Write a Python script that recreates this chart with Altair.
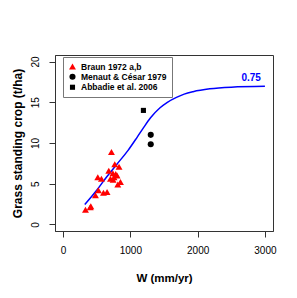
import altair as alt
import pandas as pd

# Data
braun_w = [333, 404, 412, 481, 525, 516, 570, 600, 654, 679, 719, 704, 744, 768, 783, 803, 832, 813, 853, 758, 740]
braun_v = [1.8, 2.1, 2.25, 3.6, 4.2, 5.8, 5.6, 3.9, 4.0, 6.6, 8.9, 5.6, 5.5, 7.4, 6.2, 6.0, 7.1, 4.9, 5.2, 5.8, 6.3]
menaut_w = [1303, 1303]
menaut_v = [11.0, 9.85]
abbadie_w = [1194]
abbadie_v = [14.0]

curve_w = [322, 500, 644, 800, 966, 1100, 1189, 1300, 1437, 1550, 1685, 1800, 1932, 2180, 2500, 3000]
curve_v = [2.45, 4.2, 5.8, 7.4, 9.1, 10.7, 11.8, 13.1, 14.3, 15.0, 15.6, 16.0, 16.3, 16.65, 16.85, 16.95]

series = ["Braun 1972 a,b", "Menaut & César 1979", "Abbadie et al. 2006"]
x_ticks = [0, 500, 1000, 1500, 2000, 2500, 3000]
y_ticks = [0, 5, 10, 15, 20]
label_text = ["0.75"]

pts = pd.DataFrame({
    "W": braun_w + menaut_w + abbadie_w,
    "V": braun_v + menaut_v + abbadie_v,
    "src": [series[0]] * len(braun_w) + [series[1]] * len(menaut_w) + [series[2]] * len(abbadie_w),
})
curve = pd.DataFrame({"W": curve_w, "V": curve_v})
lab = pd.DataFrame({"W": [curve_w[-1]], "V": [curve_v[-1]], "t": label_text})

FONT = "Liberation Sans"
xs = alt.Scale(domain=[-120, 3120], nice=False, zero=False)
ys = alt.Scale(domain=[-0.8, 20.8], nice=False, zero=False)

xaxis = alt.Axis(values=x_ticks, title="W (mm/yr)", grid=False, tickSize=6,
                 labelExpr="(datum.value == 1500 || datum.value == 2500) ? '' : datum.value",
                 labelFontSize=10, labelPadding=8, labelFont=FONT, labelColor="black",
                 titleFont=FONT, titleFontSize=11.5, titleFontWeight="bold", titleColor="black",
                 titleY=47, titleBaseline="middle", domainColor="#333", tickColor="#333")
yaxis = alt.Axis(values=y_ticks, title="Grass standing crop (t/ha)", grid=False, tickSize=6,
                 labelAngle=-90, labelAlign="center", labelBaseline="alphabetic", labelPadding=11,
                 labelFontSize=10, labelFont=FONT, labelColor="black",
                 titleFont=FONT, titleFontSize=12, titleFontWeight="bold", titleColor="black",
                 titleAngle=-90, titleX=-38, titleY=88, titleAlign="center", titleBaseline="middle",
                 domainColor="#333", tickColor="#333")

leg = alt.Legend(title=None, orient="none", legendX=8, legendY=2,
                 strokeColor="#777", fillColor="white", padding=5,
                 labelFont=FONT, labelFontSize=8.5, labelFontWeight="bold",
                 labelColor="black", symbolSize=12, rowPadding=1.5,
                 labelOffset=4, symbolOffset=0)

line = alt.Chart(curve).mark_line(color="#0000FF", strokeWidth=1.5, interpolate="monotone").encode(
    x=alt.X("W:Q", scale=xs, axis=xaxis),
    y=alt.Y("V:Q", scale=ys, axis=yaxis),
)

points = alt.Chart(pts).mark_point(filled=True, opacity=1).encode(
    x=alt.X("W:Q", scale=xs),
    y=alt.Y("V:Q", scale=ys),
    color=alt.Color("src:N", scale=alt.Scale(domain=series, range=["#FF0000", "#000000", "#000000"]),
                    legend=leg),
    shape=alt.Shape("src:N", scale=alt.Scale(domain=series, range=["triangle-up", "circle", "square"]),
                    legend=leg),
    size=alt.Size("src:N", scale=alt.Scale(domain=series, range=[48, 26, 40]), legend=None),
)

text = alt.Chart(lab).mark_text(align="right", baseline="bottom", dx=-4, dy=-3, color="#0000FF",
                                font=FONT, fontSize=10, fontWeight="bold").encode(
    x=alt.X("W:Q", scale=xs), y=alt.Y("V:Q", scale=ys), text="t:N")

chart = alt.layer(line, points, text).properties(
    width=218, height=176,
    autosize=alt.AutoSizeParams(type="none"),
    padding={"left": 47, "top": 47, "right": 16, "bottom": 59},
).configure(background="white").configure_view(stroke="#333", strokeWidth=1)

chart.save("out.html", embed_options={"renderer": "svg", "actions": False})
